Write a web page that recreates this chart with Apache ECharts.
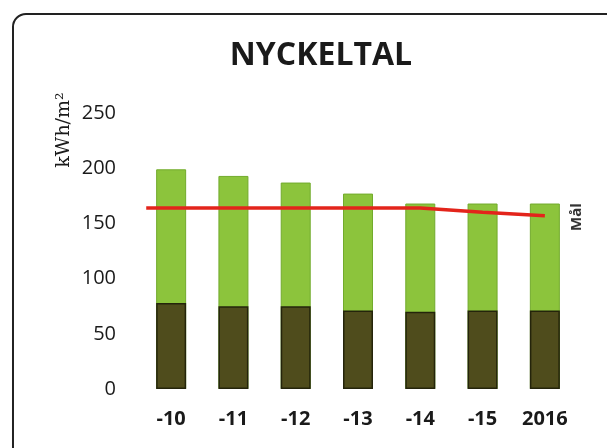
<!DOCTYPE html>
<html>
<head>
<meta charset="utf-8">
<script src="https://cdn.jsdelivr.net/npm/echarts@6/dist/echarts.min.js"></script>
<style>
html,body{margin:0;padding:0;background:#fff;}
#c{width:607px;height:448px;}
</style>
</head>
<body>
<div id="c"></div>
<script>
// Data
const categories = ['-10', '-11', '-12', '-13', '-14', '-15', '2016'];
const totalValues = [199, 193, 187, 177, 168, 168, 168];
const baseValues = [78, 75, 75, 71, 70, 71, 71];
const goalX = [-0.4, 0, 1, 2, 3, 4, 5, 6];
const goalValues = [164, 164, 164, 164, 164, 164, 160, 157];
const yTicks = [0, 50, 100, 150, 200, 250];
const titleText = 'NYCKELTAL';
const yUnit = 'kWh/m²';
const goalLabel = 'Mål';

const chart = echarts.init(document.getElementById('c'), null, {renderer: 'canvas'});
const goalData = goalX.map((x, i) => [x, goalValues[i]]);

chart.setOption({
  animation: false,
  backgroundColor: '#ffffff',
  title: {
    text: titleText,
    left: 316, top: 35, textAlign: 'center',
    textStyle: {fontFamily: 'Open Sans', fontWeight: 'bold', fontSize: 32, color: '#1a1a1a'}
  },
  grid: {left: 140, right: 31, top: 113, bottom: 59},
  xAxis: [{
    type: 'category',
    data: categories,
    axisLine: {show: false},
    axisTick: {show: false},
    axisLabel: {fontFamily: 'Open Sans', fontWeight: 'bold', fontSize: 20, color: '#1a1a1a', margin: 20}
  }, {
    type: 'value', min: -0.5, max: 6.5, show: false
  }],
  yAxis: {
    type: 'value',
    min: yTicks[0], max: yTicks[yTicks.length - 1], interval: 50,
    axisLine: {show: false},
    axisTick: {show: false},
    splitLine: {show: false},
    axisLabel: {fontFamily: 'Open Sans', fontSize: 20, color: '#1a1a1a', margin: 24}
  },
  series: [{
    type: 'bar',
    data: totalValues,
    barWidth: 30,
    barGap: '-100%',
    itemStyle: {color: '#8cc43c', borderColor: '#72ab2c', borderWidth: 1}
  }, {
    type: 'bar',
    data: baseValues,
    barWidth: 30,
    barGap: '-100%',
    itemStyle: {color: '#4f4c1c', borderColor: '#24240b', borderWidth: 1.5}
  }, {
    type: 'line',
    xAxisIndex: 1,
    data: goalData,
    symbol: 'none',
    lineStyle: {color: '#e3241b', width: 3.5},
    z: 5
  }],
  graphic: [{
    type: 'rect',
    shape: {x: 13, y: 14, width: 640, height: 480, r: 13},
    style: {fill: 'none', stroke: '#222', lineWidth: 2}
  }, {
    type: 'text',
    x: 577, y: 217, rotation: Math.PI / 2,
    style: {text: goalLabel, fontFamily: 'Liberation Sans Narrow, Open Sans', fontWeight: 'bold', fontSize: 15, fill: '#333', align: 'center', verticalAlign: 'middle'}
  }, {
    type: 'text',
    x: 64, y: 130, rotation: Math.PI / 2,
    style: {text: yUnit, fontFamily: 'DejaVu Serif', fontSize: 19, fill: '#1a1a1a', align: 'center', verticalAlign: 'middle'}
  }]
});
</script>
</body>
</html>
